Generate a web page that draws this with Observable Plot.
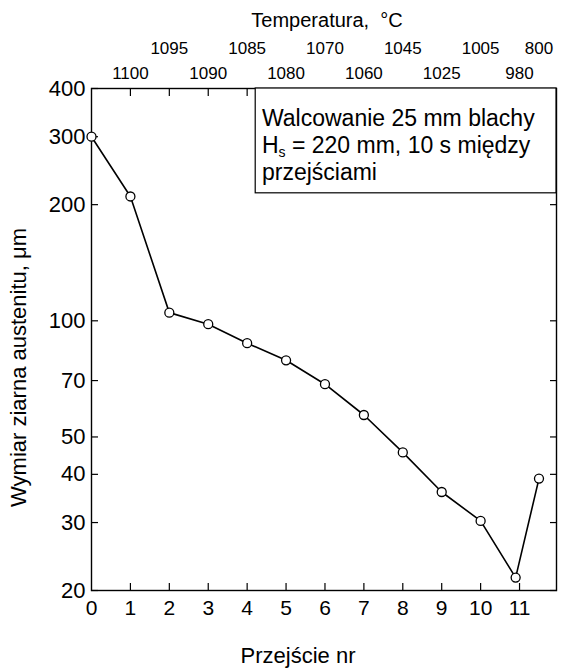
<!DOCTYPE html>
<html><head><meta charset="utf-8">
<script src="https://cdn.jsdelivr.net/npm/d3@7"></script>
<script src="https://cdn.jsdelivr.net/npm/@observablehq/plot@0.6"></script>
<style>body{margin:0;background:#fff} svg{display:block}</style>
</head><body><div id="chart"></div>
<script>
// Data
const passes    = [0, 1, 2, 3, 4, 5, 6, 7, 8, 9, 10, 10.9, 11.5];
const grainSize = [300, 210, 105, 98, 87.5, 79, 68.5, 57, 45.6, 36, 30.3, 21.6, 39];
const yTicks = [20, 30, 40, 50, 70, 100, 200, 300, 400];
const xTicks = [0, 1, 2, 3, 4, 5, 6, 7, 8, 9, 10, 11];
const topTickPasses = [1, 2, 3, 4, 5, 6, 7, 8, 9, 10, 11];
const tempPassUpper = [2, 4, 6, 8, 10, 11.5];
const tempUpper = ["1095", "1085", "1070", "1045", "1005", "800"];
const tempPassLower = [1, 3, 5, 7, 9, 11];
const tempLower = ["1100", "1090", "1080", "1060", "1025", "980"];
const noteLines = ["Walcowanie 25 mm blachy", "Hs = 220 mm, 10 s między", "przejściami"];
const noteBox = {x1: 4.22, x2: 11.95, y1: 400, y2: 214};
const noteX = [4.38];

const points = passes.map((p, i) => ({pass: p, size: grainSize[i]}));
const upper = tempPassUpper.map((p, i) => ({pass: p, t: tempUpper[i]}));
const lower = tempPassLower.map((p, i) => ({pass: p, t: tempLower[i]}));

const font = "Liberation Sans, Arial, sans-serif";

const chart = Plot.plot({
  width: 565, height: 669,
  marginLeft: 91, marginRight: 9, marginTop: 88, marginBottom: 79,
  style: {fontFamily: font, fontSize: "19px", color: "black", background: "white"},
  x: {domain: [0, 11.95]},
  y: {type: "log", domain: [20, 400]},
  marks: [
    Plot.frame({stroke: "black", strokeWidth: 1.4}),
    // inward ticks
    Plot.axisY({ticks: yTicks, anchor: "left", tickSize: -7, tickFormat: () => "", label: null, strokeWidth: 1.2}),
    Plot.axisY({ticks: yTicks, anchor: "right", tickSize: -7, tickFormat: () => "", label: null, strokeWidth: 1.2}),
    Plot.axisX({ticks: xTicks.slice(1), anchor: "bottom", tickSize: -7, tickFormat: () => "", label: null, strokeWidth: 1.2}),
    Plot.axisX({ticks: topTickPasses, anchor: "top", tickSize: -7, tickFormat: () => "", label: null, strokeWidth: 1.2}),
    // tick labels
    Plot.axisY({ticks: yTicks, anchor: "left", tickSize: 0, tickPadding: 6, tickFormat: d => String(d), label: null, fontSize: 22, letterSpacing: "1px"}),
    Plot.axisX({ticks: xTicks, anchor: "bottom", tickSize: 0, tickPadding: 10, tickFormat: d => String(d), label: null, fontSize: 21}),
    // temperatures on top
    Plot.text(upper, {x: "pass", text: "t", frameAnchor: "top", lineAnchor: "middle", dy: -40, fontSize: 17, letterSpacing: "2px"}),
    Plot.text(lower, {x: "pass", text: "t", frameAnchor: "top", lineAnchor: "middle", dy: -15, fontSize: 17, letterSpacing: "2px"}),
    // axis titles
    Plot.text(["Temperatura,  °C"], {frameAnchor: "top", lineAnchor: "middle", dy: -68, dx: 3, fontSize: 20}),
    Plot.text(["Przejście nr"], {frameAnchor: "bottom", lineAnchor: "middle", dy: 65, dx: -26, fontSize: 22, letterSpacing: "1.3px"}),
    Plot.text(["Wymiar ziarna austenitu, μm"], {frameAnchor: "left", textAnchor: "middle", lineAnchor: "middle", dx: -73, dy: 28, rotate: -90, fontSize: 22, letterSpacing: "1.2px"}),
    // note box
    Plot.rect([noteBox], {x1: "x1", x2: "x2", y1: "y1", y2: "y2", fill: "white", stroke: "black", strokeWidth: 1.2}),
    Plot.text([noteLines.join("\n")], {x: noteX, frameAnchor: "top", textAnchor: "start", lineAnchor: "top", dy: 19, lineHeight: 1.16, fontSize: 23, letterSpacing: "1.1px"}),
    // data
    Plot.line(points, {x: "pass", y: "size", stroke: "black", strokeWidth: 1.6}),
    Plot.dot(points, {x: "pass", y: "size", r: 4.5, fill: "white", stroke: "black", strokeWidth: 1.3})
  ]
});
document.getElementById("chart").appendChild(chart);

// subscript "s" in H_s
chart.querySelectorAll("text tspan").forEach(ts => {
  if (ts.textContent.startsWith("Hs ")) {
    const rest = ts.textContent.slice(2);
    ts.textContent = "H";
    const sub = document.createElementNS("http://www.w3.org/2000/svg", "tspan");
    sub.setAttribute("font-size", "14");
    sub.setAttribute("baseline-shift", "-4");
    sub.textContent = "s";
    const after = document.createElementNS("http://www.w3.org/2000/svg", "tspan");
    after.textContent = rest;
    ts.appendChild(sub);
    ts.appendChild(after);
  }
});
</script>
</body></html>
